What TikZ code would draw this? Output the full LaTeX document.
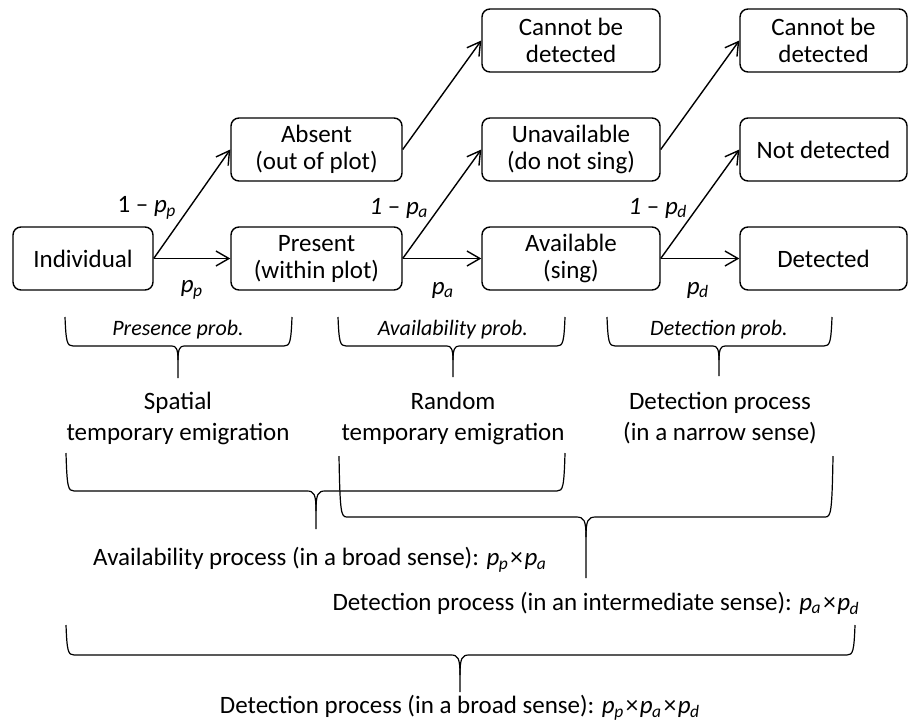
\documentclass[tikz,border=0pt]{standalone}
\usepackage{fontspec}
\setmainfont{Carlito}
\usetikzlibrary{arrows.meta}
\newcommand{\pv}[1]{\textit{p}\textsubscript{\kern-0.3pt\textit{#1}}}
\newcommand{\tms}{\kern0.8pt×\kern0.8pt}
% \hbrace{x left}{x right}{x cusp}{y top}{y horizontal}{y tip}{cusp width}{cusp depth}
\newcommand{\hbrace}[8]{%
  \draw[brace] (#1,#4) .. controls (#1+1,#5-4) and (#1+2,#5) .. (#1+8,#5) -- (#3-#7,#5)
    .. controls (#3-2,#5) and (#3,#5+3) .. (#3,#5+#8) -- (#3,#6);
  \draw[brace] (#2,#4) .. controls (#2-1,#5-4) and (#2-2,#5) .. (#2-8,#5) -- (#3+#7,#5)
    .. controls (#3+2,#5) and (#3,#5+3) .. (#3,#5+#8);
}
\begin{document}
\begin{tikzpicture}[x={(0.5pt,0)}, y={(0,-0.5pt)},
  box/.style={draw, rounded corners=4pt, line width=0.7pt, minimum height=31.5pt,
    align=center, inner sep=0pt, font=\fontsize{12.5}{13.5}\selectfont},
  conn/.style={line width=0.7pt, -{Straight Barb[length=6.5pt,width=7.5pt]}},
  lab/.style={inner sep=0pt, font=\fontsize{12.5}{14}\selectfont},
  problab/.style={inner sep=0pt, font=\fontsize{11}{13}\itshape},
  proc/.style={inner sep=0pt, align=center, font=\fontsize{12.5}{15.5}\selectfont},
  brace/.style={line width=0.6pt}]
\useasboundingbox (0,0) rectangle (909,723);

% boxes
\node[box, minimum width=70pt]   (ind)  at (83,258.5)    {Individual};
\node[box, minimum width=85.5pt] (abs)  at (316.5,149.5) {Absent\\(out of plot)};
\node[box, minimum width=85.5pt] (pre)  at (316.5,258.5) {Present\\(within plot)};
\node[box, minimum width=89pt]   (una)  at (571,149.5)   {Unavailable\\(do not sing)};
\node[box, minimum width=89pt]   (ava)  at (571,258.5)   {Available\\(sing)};
\node[box, minimum width=89pt]   (cbd1) at (571,40.5)    {Cannot be\\detected};
\node[box, minimum width=83.5pt] (cbd2) at (823.5,40.5)  {Cannot be\\detected};
\node[box, minimum width=83.5pt] (nd)   at (823.5,149.5) {Not detected};
\node[box, minimum width=83.5pt] (det)  at (823.5,258.5) {Detected};

% connectors
\draw[conn] (ind.east) -- (pre.west);
\draw[conn] (ind.east) -- (abs.west);
\draw[conn] (abs.east) -- (cbd1.west);
\draw[conn] (pre.east) -- (ava.west);
\draw[conn] (pre.east) -- (una.west);
\draw[conn] (una.east) -- (cbd2.west);
\draw[conn] (ava.east) -- (det.west);
\draw[conn] (ava.east) -- (nd.west);

% edge labels
\node[lab] (l1) at (147,208) {1 – \pv{p}};
\node[lab] (l2) at (192,290) {\pv{p}};
\node[lab] (l3) at (399,208) {\textit{1} – \pv{a}};
\node[lab] (l4) at (443,290) {\pv{a}};
\node[lab] (l5) at (658,208) {\textit{1} – \pv{d}};
\node[lab] (l6) at (698,290) {\pv{d}};

% small braces
\node[problab] (bp1) at (178,330) {Presence prob.};
\node[problab] (bp2) at (453,330) {Availability prob.};
\node[problab] (bp3) at (719,330) {Detection prob.};
\hbrace{65}{292}{178}{317}{346}{378}{6}{14}
\hbrace{338}{565}{453}{317}{346}{377}{6}{14}
\hbrace{607}{832}{719}{317}{346}{376}{6}{14}

\node[proc] (sp) at (178,418) {Spatial\\temporary emigration};
\node[proc] (rd) at (453,418) {Random\\temporary emigration};
\node[proc] (dn) at (720,418) {Detection process\\(in a narrow sense)};

% big braces
\hbrace{66}{565}{316}{453}{491}{529}{9}{20}
\hbrace{339}{833}{586}{456}{517}{578}{10}{20}
\hbrace{66}{855}{460}{625}{655}{692}{9}{20}

\node[lab] (ab) at (320,560) {Availability process (in a broad sense): \pv{p}\tms\pv{a}};
\node[lab, anchor=east] (di) at (860,603) {Detection process (in an intermediate sense): \pv{a}\tms\pv{d}};
\node[lab] (db) at (460,708) {Detection process (in a broad sense): \pv{p}\tms\pv{a}\tms\pv{d}};
\end{tikzpicture}
\end{document}
